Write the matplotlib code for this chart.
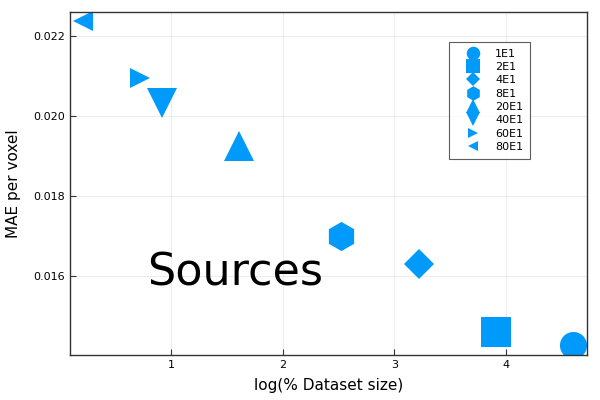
import matplotlib.pyplot as plt

# log(% dataset size) vs MAE per voxel, one marker per source count
labels = ['1E1', '2E1', '4E1', '8E1', '20E1', '40E1', '60E1', '80E1']
log_size = [4.60, 3.91, 3.22, 2.52, 1.61, 0.92, 0.72, 0.21]
mae = [0.01428, 0.01460, 0.01630, 0.01700, 0.01925, 0.02033, 0.02095, 0.02237]
markers = ['o', 's', 'D', 'h', '^', 'v', '>', '<']
sizes = [19.5, 21.5, 14.8, 21, 21.5, 21.5, 14.5, 14.5]

color = '#009AFA'

fig = plt.figure(figsize=(6, 4), dpi=100)
ax = fig.add_axes([0.1167, 0.1125, 0.8616, 0.8575])

for x, y, m, s, lab in zip(log_size, mae, markers, sizes, labels):
    ax.plot(x, y, linestyle='none', marker=m, markersize=s, color=color,
            markeredgewidth=0, label=lab)

ax.set_xlim(0.096, 4.725)
ax.set_ylim(0.01402, 0.0226)
ax.set_xticks([1, 2, 3, 4])
ax.set_yticks([0.016, 0.018, 0.020, 0.022])
ax.set_yticklabels(['0.016', '0.018', '0.020', '0.022'])
ax.tick_params(direction='in', length=4, width=0.8, labelsize=8, colors='#333333',
               labelcolor='black')
ax.grid(True, color='#000000', alpha=0.07, linewidth=0.8)
for sp in ax.spines.values():
    sp.set_color('#333333')
    sp.set_linewidth(1)

ax.set_xlabel('log(% Dataset size)', fontsize=11, labelpad=6)
ax.set_ylabel('MAE per voxel', fontsize=11, labelpad=9)

ax.text(1.57, 0.01608, 'Sources', fontsize=32, ha='center', va='center')

leg = ax.legend(loc='upper right', bbox_to_anchor=(0.89, 0.9125), fontsize=8,
                markerscale=0.5, frameon=True, fancybox=False, borderpad=0.6,
                labelspacing=0.3, handletextpad=0.45, handlelength=3.1,
                borderaxespad=0)
leg.get_frame().set_edgecolor('#333333')
leg.get_frame().set_linewidth(0.8)

fig.savefig('out.png', dpi=100)
